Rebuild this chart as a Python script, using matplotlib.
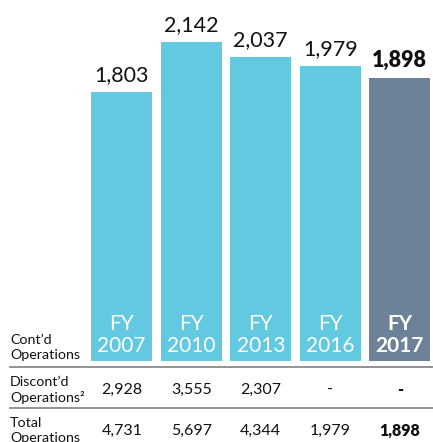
import matplotlib
matplotlib.use('Agg')
import matplotlib.pyplot as plt
import matplotlib.transforms as mtransforms

plt.rcParams['font.family'] = ['Lato', 'DejaVu Sans']

years = ['2007', '2010', '2013', '2016', '2017']
contd = [1803, 2142, 2037, 1979, 1898]
discontd = ['2,928', '3,555', '2,307', '-', '-']
total = ['4,731', '5,697', '4,344', '1,979', '1,898']

cyan = '#63c9e1'
slate = '#6b8299'
W, H = 433, 442


def fx(px):
    return px / W


def fy(py):
    return 1 - py / H


fig = plt.figure(figsize=(W / 100, H / 100), dpi=100)
ax = fig.add_axes([fx(87), fy(361), fx(346), 361 / H])
ax.set_xlim(-0.5, -0.5 + 346 / 69.5)
ax.set_ylim(0, 361 / 0.149)
ax.axis('off')

colors = [cyan] * 4 + [slate]
xs = list(range(len(years)))
ax.bar(xs, contd, width=0.88, color=colors)

trans = mtransforms.blended_transform_factory(ax.transData, fig.transFigure)
for i, v in enumerate(contd):
    last = i == len(contd) - 1
    w = 'heavy' if last else 'normal'
    ax.annotate(f'{v:,}', (i, v), xytext=(0, 5), textcoords='offset points',
                ha='center', va='bottom', fontsize=15.5, fontweight=w, color='#111111')
    ax.text(i, fy(324), 'FY', transform=trans, ha='center', va='center',
            fontsize=15, color='white', fontweight='bold' if last else 'normal')
    ax.text(i, fy(346), years[i], transform=trans, ha='center', va='center',
            fontsize=15, color='white', fontweight='bold' if last else 'normal')
    ax.text(i, fy(390), discontd[i], transform=trans, ha='center', va='center',
            fontsize=11.5, color='#111111', fontweight=w)
    ax.text(i, fy(431), total[i], transform=trans, ha='center', va='center',
            fontsize=11.5, color='#111111', fontweight=w)

# row labels
lab = dict(fontsize=10.3, color='#111111', ha='left', va='center')
fig.text(fx(10), fy(340), "Cont\u2019d", **lab)
fig.text(fx(10), fy(355), 'Operations', **lab)
fig.text(fx(10), fy(382), "Discont\u2019d", **lab)
fig.text(fx(10), fy(397), 'Operations\u00b2', **lab)
fig.text(fx(10), fy(423), 'Total', **lab)
fig.text(fx(10), fy(438), 'Operations', **lab)

# separators
for yy in (367, 408):
    fig.add_artist(plt.Line2D([fx(10), 1], [fy(yy), fy(yy)], color='#8a8a8a', lw=1.3))

fig.savefig('out.png', dpi=100)
